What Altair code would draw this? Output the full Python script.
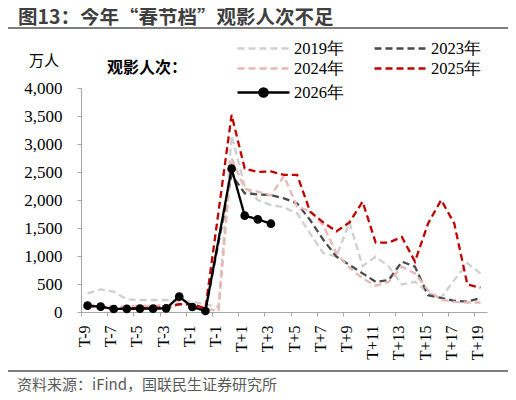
import pandas as pd
import altair as alt

# category slots along the x axis (index 0..30), labels shown on every other slot
tick_labels = ["T-9", "T-7", "T-5", "T-3", "T-1", "T-1", "T+1", "T+3",
               "T+5", "T+7", "T+9", "T+11", "T+13", "T+15", "T+17", "T+19"]

years = ["2019年", "2023年", "2024年", "2025年", "2026年"]

# 观影人次 (万人), None = no point for that slot
v2019 = [333, 405, 363, 227, 214, 214, 214, 196, 185, 137, 90, 3150, 2250, 2000, 1910, 1870,
         1760, 1400, 1050, 990, 1600, 820, 990, 810, 490, 540, 345, 255, 570, 870, 690]
v2023 = [110, 100, 60, 60, 65, 65, 70, 140, 130, 30, None, 2450, 2120, 2100, 2090, 2030,
         1940, 1640, 1290, 990, 840, 690, 540, 570, 900, 810, 300, 250, 200, 185, 250]
v2024 = [130, 120, 100, 100, 110, 110, 120, 150, 130, 60, 20, 2750, 2200, 2150, 2080, 2430,
         1880, 1800, 1550, 1050, 790, 600, 470, 540, 810, 690, 390, 220, 180, 170, 170]
v2025 = [110, 95, 60, 60, 70, 70, 90, 140, 140, 60, None, 3520, 2560, 2500, 2510, 2450,
         2450, 1790, 1600, 1440, 1600, 1970, 1240, 1240, 1340, 900, 1580, 2000, 1580, 490, 435]
v2026 = [113, 95, 54, 56, 60, 60, 65, 274, 89, 18, None, 2560, 1720, 1655, 1577]

series = dict(zip(years, [v2019, v2023, v2024, v2025, v2026]))
rows = []
for yr, vals in series.items():
    for i, v in enumerate(vals):
        if v is not None:
            rows.append({"idx": i, "year": yr, "value": v})
df = pd.DataFrame(rows)

colors = ["#cfcfcf", "#4a4a4a", "#e6b8b7", "#c00000", "#000000"]
dashes = [[7, 4], [7, 4], [7, 4], [7, 4], [1, 0]]
widths = [2.3, 2.3, 2.3, 2.3, 2.6]

label_expr = "[" + ",".join(f"'{t}'" for t in tick_labels) + "][round(datum.value / 2)]"

serif = "Liberation Serif"
cjk = "Noto Sans CJK SC"

# legend glyphs: a stroke running to the right of the symbol slot, 2026 with a dot on it
line_path = "M-1,0L4.2,0"
dot_path = "M-1,0L4.2,0M2.0,0A0.4,0.4,0,1,1,1.2,0A0.4,0.4,0,1,1,2.0,0Z"

legend_common = dict(
    title=None, orient="none", legendX=155, symbolSize=400,
    labelFont=serif, labelFontSize=16.5, labelColor="#000000", labelOffset=35, padding=0,
)
# legend fills column by column: 2019/2024 left, 2023/2025 right
legend = alt.Legend(
    legendY=-51, columns=2, values=[years[0], years[2], years[1], years[3]],
    symbolType=line_path, symbolStrokeWidth=2.3,
    columnPadding=25, rowPadding=0, **legend_common,
)

x_enc = alt.X(
    "idx:Q",
    scale=alt.Scale(domain=[-0.5, 30.5], nice=False, zero=False),
    axis=alt.Axis(
        title=None, values=list(range(0, 31, 2)), labelExpr=label_expr,
        labelAngle=-90, labelFont=serif, labelFontSize=16, labelColor="#000000",
        tickOffset=-6.5, labelOffset=3.5, tickSize=4, grid=False, labelOverlap=False,
        domainColor="#a6a6a6", tickColor="#a6a6a6", labelPadding=9,
    ),
)
y_enc = alt.Y(
    "value:Q",
    scale=alt.Scale(domain=[0, 4000], nice=False),
    axis=alt.Axis(
        title=None, values=list(range(0, 4001, 500)), format=",.0f",
        labelFont=serif, labelFontSize=17, labelColor="#000000", labelOverlap=False,
        tickSize=4, labelPadding=15, grid=False,
        domainColor="#a6a6a6", tickColor="#a6a6a6",
    ),
)

lines = alt.Chart(df).mark_line(interpolate="linear").encode(
    x=x_enc,
    y=y_enc,
    color=alt.Color("year:N", scale=alt.Scale(domain=years, range=colors), legend=legend),
    strokeDash=alt.StrokeDash("year:N", scale=alt.Scale(domain=years, range=dashes), legend=legend),
    strokeWidth=alt.StrokeWidth("year:N", scale=alt.Scale(domain=years, range=widths), legend=None),
    detail="year:N",
)

dots = alt.Chart(df).transform_filter(alt.datum.year == "2026年").mark_point(
    filled=True, size=75, opacity=1, color="#000000"
).encode(x=x_enc, y=y_enc)

one = alt.Data(values=[{}])

# empty layer that only carries the 2026 legend entry (line with a dot)
legend_2026 = (
    alt.Chart(one)
    .transform_calculate(tag="'2026年'")
    .transform_filter("false")
    .mark_point(filled=True, fill="#000000", stroke="#000000", strokeWidth=2.6, opacity=1)
    .encode(
        shape=alt.Shape(
            "tag:N",
            scale=alt.Scale(domain=[years[4]], range=[dot_path]),
            legend=alt.Legend(legendY=-7, symbolStrokeWidth=2.6, **legend_common),
        )
    )
)

title = alt.Chart(one).mark_text(
    align="left", baseline="middle", font=cjk, fontSize=19.5, fontWeight="bold", color="#3f3f3f"
).encode(x=alt.value(-63), y=alt.value(-70), text=alt.value("图13：今年“春节档”观影人次不足"))

top_rule = alt.Chart(one).mark_rule(color="#7f7f7f", strokeWidth=2).encode(
    x=alt.value(-73), x2=alt.value(427), y=alt.value(-60)
)
bottom_rule = alt.Chart(one).mark_rule(color="#7f7f7f", strokeWidth=2).encode(
    x=alt.value(-73), x2=alt.value(427), y=alt.value(283)
)

unit = alt.Chart(one).mark_text(
    align="center", baseline="middle", font=cjk, fontSize=15, color="#000000"
).encode(x=alt.value(-37), y=alt.value(-27), text=alt.value("万人"))

legend_head = alt.Chart(one).mark_text(
    align="left", baseline="middle", font=cjk, fontSize=16, fontWeight="bold", color="#000000"
).encode(x=alt.value(26), y=alt.value(-20), text=alt.value("观影人次："))

source = alt.Chart(one).mark_text(
    align="left", baseline="middle", font=cjk, fontSize=15, color="#595959"
).encode(x=alt.value(-64), y=alt.value(296.5), text=alt.value("资料来源：iFind，国联民生证券研究所"))

chart = (
    alt.layer(lines, dots, legend_2026, title, top_rule, bottom_rule, unit, legend_head, source)
    .resolve_scale(shape="independent")
    .properties(
        width=406, height=224,
        autosize=alt.AutoSizeParams(type="none"),
        padding={"left": 73, "top": 80, "right": 21, "bottom": 80},
    )
    .configure_view(stroke=None)
)

chart.save("out.html", embed_options={"renderer": "svg", "actions": False})
